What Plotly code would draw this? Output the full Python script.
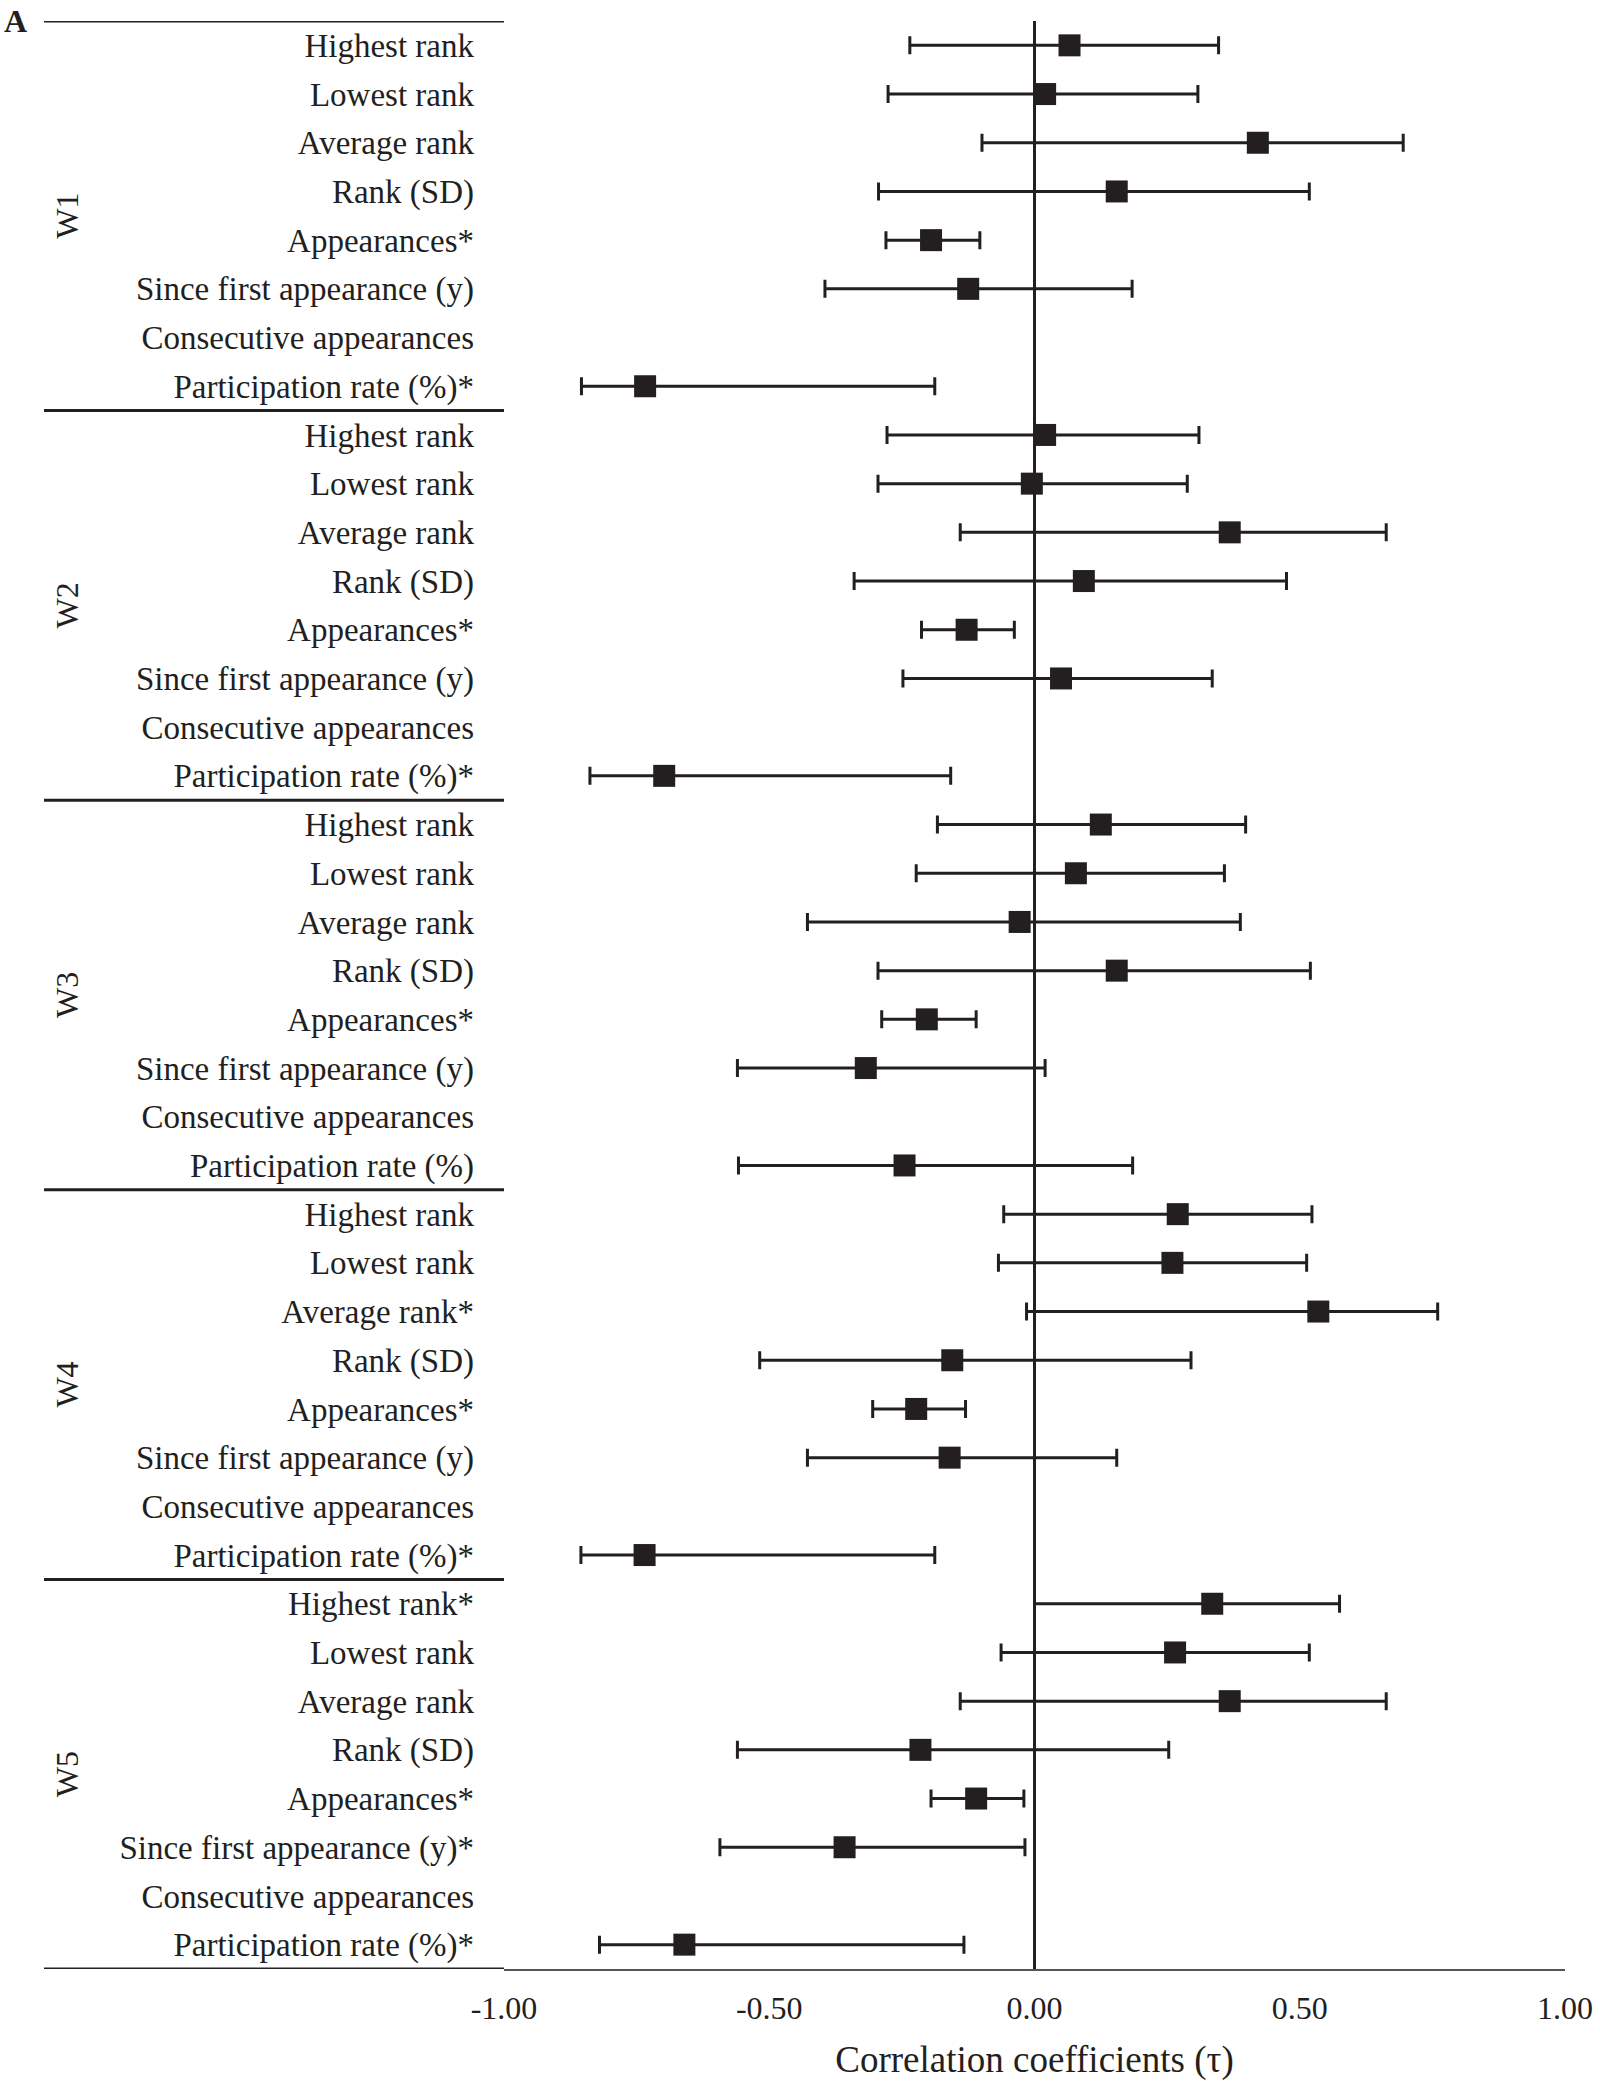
import plotly.graph_objects as go

# ---------------- data ----------------
waves = ["W1", "W2", "W3", "W4", "W5"]

labels_w1 = ["Highest rank", "Lowest rank", "Average rank", "Rank (SD)", "Appearances*",
             "Since first appearance (y)", "Consecutive appearances", "Participation rate (%)*"]
labels_w2 = ["Highest rank", "Lowest rank", "Average rank", "Rank (SD)", "Appearances*",
             "Since first appearance (y)", "Consecutive appearances", "Participation rate (%)*"]
labels_w3 = ["Highest rank", "Lowest rank", "Average rank", "Rank (SD)", "Appearances*",
             "Since first appearance (y)", "Consecutive appearances", "Participation rate (%)"]
labels_w4 = ["Highest rank", "Lowest rank", "Average rank*", "Rank (SD)", "Appearances*",
             "Since first appearance (y)", "Consecutive appearances", "Participation rate (%)*"]
labels_w5 = ["Highest rank*", "Lowest rank", "Average rank", "Rank (SD)", "Appearances*",
             "Since first appearance (y)*", "Consecutive appearances", "Participation rate (%)*"]

w1_est = [0.066, 0.020, 0.421, 0.155, -0.195, -0.125, None, -0.734]
w1_lo = [-0.235, -0.276, -0.099, -0.294, -0.280, -0.395, None, -0.854]
w1_hi = [0.347, 0.308, 0.695, 0.518, -0.103, 0.184, None, -0.188]

w2_est = [0.020, -0.005, 0.368, 0.093, -0.128, 0.050, None, -0.698]
w2_lo = [-0.278, -0.295, -0.140, -0.340, -0.213, -0.248, None, -0.838]
w2_hi = [0.310, 0.288, 0.663, 0.475, -0.038, 0.335, None, -0.158]

w3_est = [0.125, 0.078, -0.028, 0.155, -0.203, -0.318, None, -0.245]
w3_lo = [-0.183, -0.223, -0.428, -0.295, -0.288, -0.560, None, -0.558]
w3_hi = [0.398, 0.358, 0.388, 0.520, -0.110, 0.020, None, 0.185]

w4_est = [0.270, 0.260, 0.535, -0.155, -0.223, -0.160, None, -0.735]
w4_lo = [-0.058, -0.068, -0.015, -0.518, -0.305, -0.428, None, -0.855]
w4_hi = [0.523, 0.513, 0.760, 0.295, -0.130, 0.155, None, -0.188]

w5_est = [0.335, 0.265, 0.368, -0.215, -0.110, -0.358, None, -0.660]
w5_lo = [0.000, -0.063, -0.140, -0.560, -0.195, -0.593, None, -0.820]
w5_hi = [0.575, 0.518, 0.663, 0.253, -0.020, -0.018, None, -0.133]

x_ticks = [-1.0, -0.5, 0.0, 0.5, 1.0]
x_ticktext = ["-1.00", "-0.50", "0.00", "0.50", "1.00"]
x_title = "Correlation coefficients (τ)"
panel_letter = "A"

# ---------------- build ----------------
INK = "#231f20"
FONT = "Liberation Serif"

all_labels = labels_w1 + labels_w2 + labels_w3 + labels_w4 + labels_w5
est_all = w1_est + w2_est + w3_est + w4_est + w5_est
lo_all = w1_lo + w2_lo + w3_lo + w4_lo + w5_lo
hi_all = w1_hi + w2_hi + w3_hi + w4_hi + w5_hi
n_per = len(labels_w1)
rows = list(range(len(all_labels)))

xs, ys, plus, minus = [], [], [], []
for r, e, lo, hi in zip(rows, est_all, lo_all, hi_all):
    if e is None:
        continue
    xs.append(e)
    ys.append(r)
    plus.append(hi - e)
    minus.append(e - lo)

fig = go.Figure()
fig.add_trace(go.Scatter(
    x=xs, y=ys, mode="markers",
    marker=dict(symbol="square", size=22, color=INK, line=dict(width=0)),
    error_x=dict(type="data", symmetric=False, array=plus, arrayminus=minus,
                 color=INK, thickness=3, width=9),
    showlegend=False, hoverinfo="x+y",
))

W, H = 1600, 2081
L, R, T, B = 504, 35, 21, 112
plot_w = W - L - R
plot_h = H - T - B
left_px = 44
x_left_paper = (left_px - L) / plot_w

shapes = []
for k in range(len(waves) + 1):
    yv = -0.5 + k * n_per
    shapes.append(dict(type="line", xref="paper", yref="y", x0=x_left_paper, x1=0,
                       y0=yv, y1=yv, line=dict(color=INK, width=3)))

annotations = []
for k, w in enumerate(waves):
    annotations.append(dict(text=w, xref="paper", yref="y", x=(67 - L) / plot_w,
                            y=k * n_per + (n_per - 1) / 2, textangle=-90, showarrow=False,
                            xanchor="center", yanchor="middle",
                            font=dict(family=FONT, size=32, color=INK)))
annotations.append(dict(text="<b>" + panel_letter + "</b>", xref="paper", yref="paper",
                        x=(15 - L) / plot_w, y=1 + (T - 1) / plot_h, showarrow=False,
                        xanchor="center", yanchor="top",
                        font=dict(family=FONT, size=32, color=INK)))

fig.update_layout(
    width=W, height=H,
    margin=dict(l=L, r=R, t=T, b=B),
    paper_bgcolor="white", plot_bgcolor="white",
    font=dict(family=FONT, color=INK),
    shapes=shapes, annotations=annotations,
    xaxis=dict(range=[-1, 1], tickvals=x_ticks, ticktext=x_ticktext,
               tickfont=dict(family=FONT, size=32, color=INK),
               showgrid=False, zeroline=True, zerolinecolor=INK, zerolinewidth=2.5,
               showline=True, linecolor="#555555", linewidth=2, ticks="",
               ticklabelstandoff=10, ticklabeloverflow="allow", automargin=False,
               title=dict(text=x_title, font=dict(family=FONT, size=37, color=INK), standoff=30)),
    yaxis=dict(range=[len(all_labels) - 0.5, -0.5], tickvals=rows, ticktext=all_labels,
               tickfont=dict(family=FONT, size=33, color=INK),
               showgrid=False, zeroline=False, showline=False, ticks="",
               ticklabelstandoff=29, automargin=False),
)

fig.write_html("out.html", config={"displayModeBar": False},
               post_script="document.body.style.margin='0px';")
